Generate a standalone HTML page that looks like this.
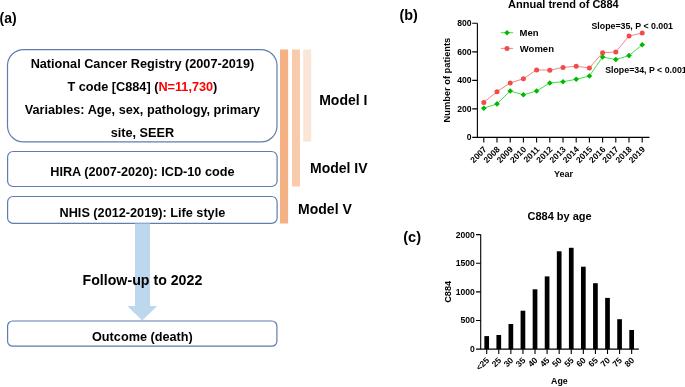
<!DOCTYPE html>
<html><head><meta charset="utf-8"><style>
html,body{margin:0;padding:0;background:#fff;}
body{width:685px;height:387px;overflow:hidden;}
svg{display:block;will-change:transform;font-family:"Liberation Sans",sans-serif;}
</style></head><body>
<svg width="685" height="387" viewBox="0 0 685 387" font-family="Liberation Sans, sans-serif" fill="#000">
<text transform="translate(-0.4,22.5) scale(0.93,1)" font-size="15" font-weight="bold">(a)</text>
<rect x="7.5" y="49.6" width="269.5" height="92.3" rx="16" ry="16" fill="#fff" stroke="#5f7dae" stroke-width="1.2"/>
<rect x="7.6" y="151.5" width="269.5" height="35" rx="5.5" ry="5.5" fill="#fff" stroke="#5f7dae" stroke-width="1.2"/>
<rect x="7.6" y="196.5" width="269.5" height="26.9" rx="5.5" ry="5.5" fill="#fff" stroke="#5f7dae" stroke-width="1.2"/>
<rect x="7.6" y="321" width="269.3" height="25.2" rx="5" ry="5" fill="#fff" stroke="#5f7dae" stroke-width="1.2"/>
<path d="M135,223.6 L150,223.6 L150,306 L157.2,306 L142.2,320.6 L127.2,306 L135,306 Z" fill="#bdd7ee"/>
<g font-size="12.7" font-weight="bold" text-anchor="middle">
<text x="142.4" y="68.1">National Cancer Registry (2007-2019)</text>
<text x="142.4" y="91.3">T code [C884] (<tspan fill="#ff0000">N=11,730</tspan>)</text>
<text x="142.4" y="113.8">Variables: Age, sex, pathology, primary</text>
<text x="142.4" y="136.7">site, SEER</text>
<text x="142.4" y="176">HIRA (2007-2020): ICD-10 code</text>
<text x="142.4" y="216.8">NHIS (2012-2019): Life style</text>
<text x="142.4" y="340.5">Outcome (death)</text>
</g>
<text x="142.4" y="285" font-size="14.2" font-weight="bold" text-anchor="middle">Follow-up to 2022</text>
<rect x="280" y="49.5" width="8.1" height="174" fill="#f4b183"/>
<rect x="292" y="49.5" width="8" height="137" fill="#f8cbad"/>
<rect x="303.2" y="49.5" width="8" height="92.2" fill="#fbe5d6"/>
<g font-size="14" font-weight="bold">
<text x="319.2" y="105.1">Model I</text>
<text x="310" y="172.8">Model IV</text>
<text x="298.1" y="213.7">Model V</text>
</g>
<text x="399.5" y="19.8" font-size="14.4" font-weight="bold">(b)</text>
<text x="563.4" y="8.2" font-size="11" font-weight="bold" text-anchor="middle">Annual trend of C884</text>
<path d="M477.4,23.3 V137.4 H649.5" fill="none" stroke="#000" stroke-width="1.1"/>
<path d="M472.2,137.40 H477.4 M472.2,108.88 H477.4 M472.2,80.35 H477.4 M472.2,51.83 H477.4 M472.2,23.30 H477.4 M483.80,137.4 V142.4 M497.00,137.4 V142.4 M510.20,137.4 V142.4 M523.40,137.4 V142.4 M536.60,137.4 V142.4 M549.80,137.4 V142.4 M563.00,137.4 V142.4 M576.20,137.4 V142.4 M589.40,137.4 V142.4 M602.60,137.4 V142.4 M615.80,137.4 V142.4 M629.00,137.4 V142.4 M642.20,137.4 V142.4 " stroke="#000" stroke-width="1.1" fill="none"/>
<g font-size="8.6" font-weight="bold" text-anchor="end">
<text x="471.5" y="140.40">0</text>
<text x="471.5" y="111.88">200</text>
<text x="471.5" y="83.35">400</text>
<text x="471.5" y="54.83">600</text>
<text x="471.5" y="26.30">800</text>
</g>
<text transform="translate(450,80.1) rotate(-90)" font-size="9.3" font-weight="bold" text-anchor="middle">Number of patients</text>
<g font-size="8.5" font-weight="bold" text-anchor="end">
<text transform="translate(487.20,150.00) rotate(-45)">2007</text>
<text transform="translate(500.40,150.00) rotate(-45)">2008</text>
<text transform="translate(513.60,150.00) rotate(-45)">2009</text>
<text transform="translate(526.80,150.00) rotate(-45)">2010</text>
<text transform="translate(540.00,150.00) rotate(-45)">2011</text>
<text transform="translate(553.20,150.00) rotate(-45)">2012</text>
<text transform="translate(566.40,150.00) rotate(-45)">2013</text>
<text transform="translate(579.60,150.00) rotate(-45)">2014</text>
<text transform="translate(592.80,150.00) rotate(-45)">2015</text>
<text transform="translate(606.00,150.00) rotate(-45)">2016</text>
<text transform="translate(619.20,150.00) rotate(-45)">2017</text>
<text transform="translate(632.40,150.00) rotate(-45)">2018</text>
<text transform="translate(645.60,150.00) rotate(-45)">2019</text>
</g>
<text x="563.4" y="177" font-size="9" font-weight="bold" text-anchor="middle">Year</text>
<polyline points="483.80,102.40 497.00,91.70 510.20,83.00 523.40,78.70 536.60,69.90 549.80,70.20 563.00,67.40 576.20,66.30 589.40,67.90 602.60,52.80 615.80,51.90 629.00,36.00 642.20,33.10" fill="none" stroke="#f48484" stroke-width="1"/>
<polyline points="483.80,108.20 497.00,103.90 510.20,91.00 523.40,94.80 536.60,91.00 549.80,83.00 563.00,81.70 576.20,79.30 589.40,76.00 602.60,57.00 615.80,59.50 629.00,55.60 642.20,44.70" fill="none" stroke="#3fe03f" stroke-width="1"/>
<circle cx="483.80" cy="102.40" r="2.5" fill="#f24b4b"/>
<circle cx="497.00" cy="91.70" r="2.5" fill="#f24b4b"/>
<circle cx="510.20" cy="83.00" r="2.5" fill="#f24b4b"/>
<circle cx="523.40" cy="78.70" r="2.5" fill="#f24b4b"/>
<circle cx="536.60" cy="69.90" r="2.5" fill="#f24b4b"/>
<circle cx="549.80" cy="70.20" r="2.5" fill="#f24b4b"/>
<circle cx="563.00" cy="67.40" r="2.5" fill="#f24b4b"/>
<circle cx="576.20" cy="66.30" r="2.5" fill="#f24b4b"/>
<circle cx="589.40" cy="67.90" r="2.5" fill="#f24b4b"/>
<circle cx="602.60" cy="52.80" r="2.5" fill="#f24b4b"/>
<circle cx="615.80" cy="51.90" r="2.5" fill="#f24b4b"/>
<circle cx="629.00" cy="36.00" r="2.5" fill="#f24b4b"/>
<circle cx="642.20" cy="33.10" r="2.5" fill="#f24b4b"/>
<path d="M483.80,105.40 L486.60,108.20 L483.80,111.00 L481.00,108.20 Z" fill="#00b800"/>
<path d="M497.00,101.10 L499.80,103.90 L497.00,106.70 L494.20,103.90 Z" fill="#00b800"/>
<path d="M510.20,88.20 L513.00,91.00 L510.20,93.80 L507.40,91.00 Z" fill="#00b800"/>
<path d="M523.40,92.00 L526.20,94.80 L523.40,97.60 L520.60,94.80 Z" fill="#00b800"/>
<path d="M536.60,88.20 L539.40,91.00 L536.60,93.80 L533.80,91.00 Z" fill="#00b800"/>
<path d="M549.80,80.20 L552.60,83.00 L549.80,85.80 L547.00,83.00 Z" fill="#00b800"/>
<path d="M563.00,78.90 L565.80,81.70 L563.00,84.50 L560.20,81.70 Z" fill="#00b800"/>
<path d="M576.20,76.50 L579.00,79.30 L576.20,82.10 L573.40,79.30 Z" fill="#00b800"/>
<path d="M589.40,73.20 L592.20,76.00 L589.40,78.80 L586.60,76.00 Z" fill="#00b800"/>
<path d="M602.60,54.20 L605.40,57.00 L602.60,59.80 L599.80,57.00 Z" fill="#00b800"/>
<path d="M615.80,56.70 L618.60,59.50 L615.80,62.30 L613.00,59.50 Z" fill="#00b800"/>
<path d="M629.00,52.80 L631.80,55.60 L629.00,58.40 L626.20,55.60 Z" fill="#00b800"/>
<path d="M642.20,41.90 L645.00,44.70 L642.20,47.50 L639.40,44.70 Z" fill="#00b800"/>
<path d="M500.8,32.7 H513.1" stroke="#3fe03f" stroke-width="1"/>
<path d="M507,29.9 L509.8,32.7 L507,35.5 L504.2,32.7 Z" fill="#00b800"/>
<path d="M500.8,48.4 H513.1" stroke="#f48484" stroke-width="1"/>
<circle cx="507" cy="48.4" r="2.5" fill="#f24b4b"/>
<g font-size="9.5" font-weight="bold">
<text x="519.5" y="36.3">Men</text>
<text x="519.8" y="51.6">Women</text>
</g>
<g font-size="8.8" font-weight="bold">
<text x="591.5" y="28.8">Slope=35, P &lt; 0.001</text>
<text x="605.2" y="72.7">Slope=34, P &lt; 0.001</text>
</g>
<text x="403.2" y="242.3" font-size="14.6" font-weight="bold">(c)</text>
<text x="559.6" y="219.6" font-size="11" font-weight="bold" text-anchor="middle">C884 by age</text>
<path d="M480.7,234.6 V349.1 H638.8" fill="none" stroke="#000" stroke-width="1.1"/>
<path d="M476,349.10 H480.7 M476,320.48 H480.7 M476,291.85 H480.7 M476,263.23 H480.7 M476,234.60 H480.7 M486.70,349.1 V354.1 M498.78,349.1 V354.1 M510.86,349.1 V354.1 M522.94,349.1 V354.1 M535.02,349.1 V354.1 M547.10,349.1 V354.1 M559.18,349.1 V354.1 M571.26,349.1 V354.1 M583.34,349.1 V354.1 M595.42,349.1 V354.1 M607.50,349.1 V354.1 M619.58,349.1 V354.1 M631.66,349.1 V354.1 " stroke="#000" stroke-width="1.1" fill="none"/>
<rect x="484.35" y="336.10" width="4.7" height="13.00" fill="#000"/>
<rect x="496.43" y="335.00" width="4.7" height="14.10" fill="#000"/>
<rect x="508.51" y="324.00" width="4.7" height="25.10" fill="#000"/>
<rect x="520.59" y="310.70" width="4.7" height="38.40" fill="#000"/>
<rect x="532.67" y="289.30" width="4.7" height="59.80" fill="#000"/>
<rect x="544.75" y="276.40" width="4.7" height="72.70" fill="#000"/>
<rect x="556.83" y="251.30" width="4.7" height="97.80" fill="#000"/>
<rect x="568.91" y="247.80" width="4.7" height="101.30" fill="#000"/>
<rect x="580.99" y="266.70" width="4.7" height="82.40" fill="#000"/>
<rect x="593.07" y="283.20" width="4.7" height="65.90" fill="#000"/>
<rect x="605.15" y="297.90" width="4.7" height="51.20" fill="#000"/>
<rect x="617.23" y="319.20" width="4.7" height="29.90" fill="#000"/>
<rect x="629.31" y="330.00" width="4.7" height="19.10" fill="#000"/>
<g font-size="8.6" font-weight="bold" text-anchor="end">
<text x="474.8" y="352.10">0</text>
<text x="474.8" y="323.48">500</text>
<text x="474.8" y="294.85">1000</text>
<text x="474.8" y="266.23">1500</text>
<text x="474.8" y="237.60">2000</text>
</g>
<text transform="translate(450.5,291.8) rotate(-90)" font-size="9.2" font-weight="bold" text-anchor="middle">C884</text>
<g font-size="8.5" font-weight="bold" text-anchor="end">
<text transform="translate(489.80,360.90) rotate(-45)">&lt;25</text>
<text transform="translate(501.88,360.90) rotate(-45)">25</text>
<text transform="translate(513.96,360.90) rotate(-45)">30</text>
<text transform="translate(526.04,360.90) rotate(-45)">35</text>
<text transform="translate(538.12,360.90) rotate(-45)">40</text>
<text transform="translate(550.20,360.90) rotate(-45)">45</text>
<text transform="translate(562.28,360.90) rotate(-45)">50</text>
<text transform="translate(574.36,360.90) rotate(-45)">55</text>
<text transform="translate(586.44,360.90) rotate(-45)">60</text>
<text transform="translate(598.52,360.90) rotate(-45)">65</text>
<text transform="translate(610.60,360.90) rotate(-45)">70</text>
<text transform="translate(622.68,360.90) rotate(-45)">75</text>
<text transform="translate(634.76,360.90) rotate(-45)">80</text>
</g>
<text x="559.4" y="384.1" font-size="8.8" font-weight="bold" text-anchor="middle">Age</text>
</svg>
</body></html>
